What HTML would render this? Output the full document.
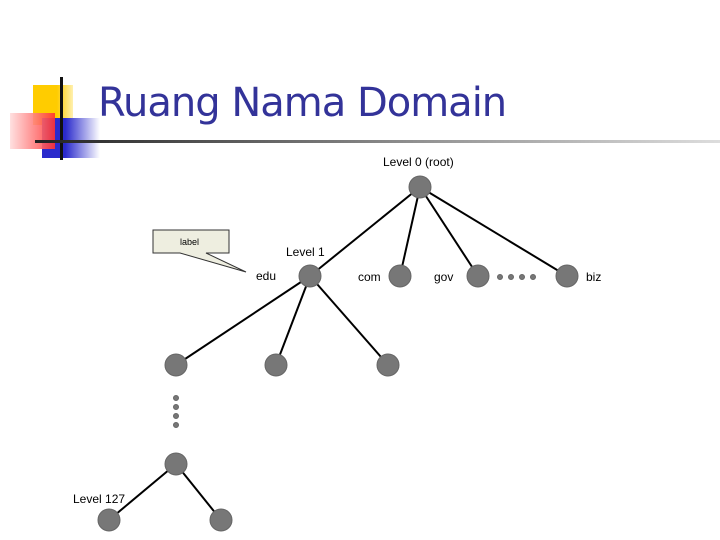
<!DOCTYPE html>
<html><head><style>
body{margin:0;width:720px;height:540px;background:#fff;overflow:hidden;position:relative;font-family:"Liberation Sans",sans-serif}
.a{position:absolute}
</style></head><body>
<div class="a" style="left:33px;top:85px;width:40px;height:40px;background:linear-gradient(90deg,#ffcc00 60%,#fff0b0 100%)"></div>
<div class="a" style="left:42px;top:118px;width:58px;height:40px;background:linear-gradient(90deg,#2a2acc 40%,#fff 100%)"></div>
<div class="a" style="left:10px;top:113px;width:45px;height:36px;background:linear-gradient(90deg,#ffdddd 0%,#ff3030 100%);opacity:.9"></div>
<div class="a" style="left:60px;top:77px;width:3px;height:83px;background:#111"></div>
<div class="a" style="left:35px;top:140px;width:685px;height:3px;background:linear-gradient(90deg,#222,#999 60%,#ddd)"></div>
<div class="a" style="left:98px;top:80px;font-family:'DejaVu Sans',sans-serif;font-size:40px;color:#333399;letter-spacing:-1px">Ruang Nama Domain</div>
<svg class="a" style="left:0;top:0" width="720" height="540">
<g stroke="#000" stroke-width="2">
<line x1="420" y1="187" x2="310" y2="276"/><line x1="420" y1="187" x2="400" y2="276"/>
<line x1="420" y1="187" x2="478" y2="276"/><line x1="420" y1="187" x2="567" y2="276"/>
<line x1="310" y1="276" x2="176" y2="365"/><line x1="310" y1="276" x2="276" y2="365"/><line x1="310" y1="276" x2="388" y2="365"/>
<line x1="176" y1="464" x2="109" y2="520"/><line x1="176" y1="464" x2="221" y2="520"/>
</g>
<g fill="#777" stroke="#666">
<circle cx="420" cy="187" r="11"/><circle cx="310" cy="276" r="11"/><circle cx="400" cy="276" r="11"/>
<circle cx="478" cy="276" r="11"/><circle cx="567" cy="276" r="11"/>
<circle cx="176" cy="365" r="11"/><circle cx="276" cy="365" r="11"/><circle cx="388" cy="365" r="11"/>
<circle cx="176" cy="464" r="11"/><circle cx="109" cy="520" r="11"/><circle cx="221" cy="520" r="11"/>
<circle cx="500" cy="277" r="2.5"/><circle cx="511" cy="277" r="2.5"/><circle cx="522" cy="277" r="2.5"/><circle cx="533" cy="277" r="2.5"/>
<circle cx="176" cy="398" r="2.5"/><circle cx="176" cy="407" r="2.5"/><circle cx="176" cy="416" r="2.5"/><circle cx="176" cy="425" r="2.5"/>
</g>
<polygon points="153,230 229,230 229,253 206,253 246,272 180,253 153,253" fill="#eeeee0" stroke="#333" stroke-width="1"/>
<g font-family="Liberation Sans" font-size="12" fill="#000">
<text x="383" y="166">Level 0 (root)</text>
<text x="286" y="256">Level 1</text>
<text x="256" y="280">edu</text>
<text x="358" y="281">com</text>
<text x="434" y="281">gov</text>
<text x="586" y="281">biz</text>
<text x="73" y="503">Level 127</text>
<text x="180" y="245" font-size="9">label</text>
</g>
</svg>
</body></html>
